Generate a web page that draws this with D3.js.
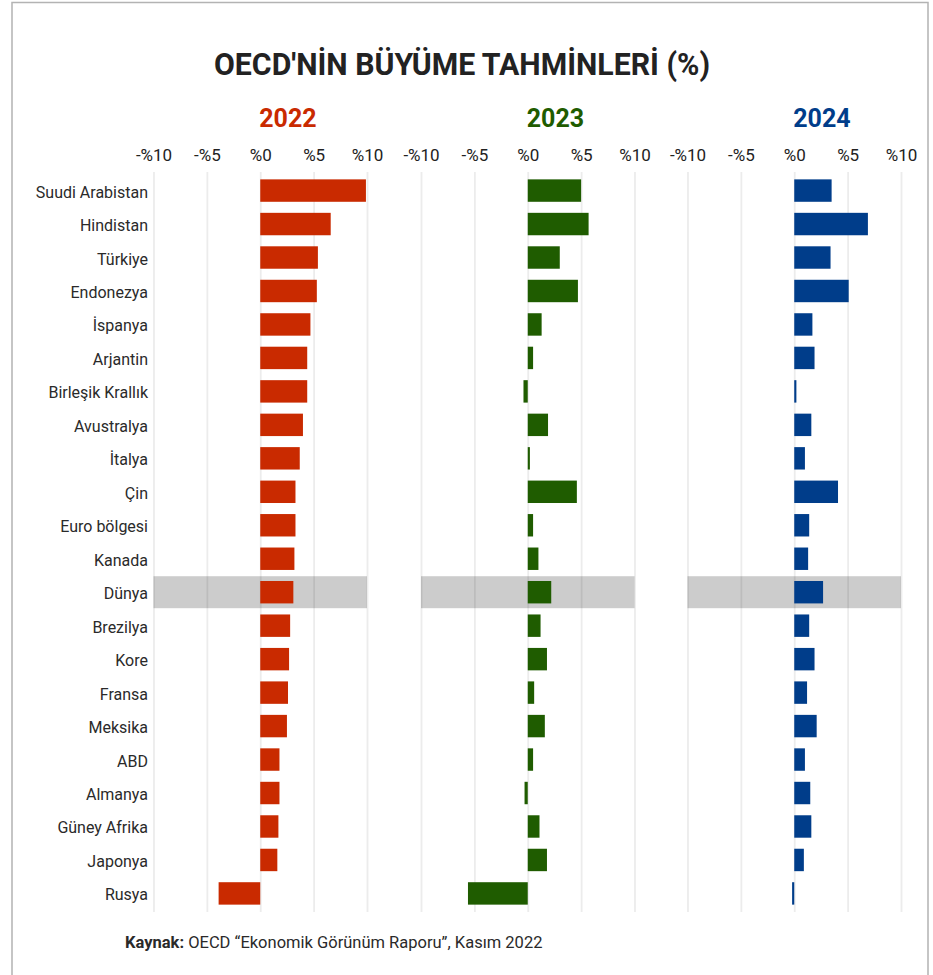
<!DOCTYPE html>
<html>
<head>
<meta charset="utf-8">
<script src="https://cdn.jsdelivr.net/npm/d3@7"></script>
<style>
  body { margin: 0; background: #fff; }
  text { font-family: Roboto, "Noto Sans", sans-serif; }
</style>
</head>
<body>
<div id="chart"></div>
<script>
"use strict";

var countries = ["Suudi Arabistan", "Hindistan", "Türkiye", "Endonezya", "İspanya", "Arjantin",
    "Birleşik Krallık", "Avustralya", "İtalya", "Çin", "Euro bölgesi", "Kanada", "Dünya",
    "Brezilya", "Kore", "Fransa", "Meksika", "ABD", "Almanya", "Güney Afrika", "Japonya", "Rusya"];

var years = ["2022", "2023", "2024"];

var growth2022 = [9.9, 6.6, 5.4, 5.3, 4.7, 4.4, 4.4, 4.0, 3.7, 3.3, 3.3, 3.2, 3.1,
    2.8, 2.7, 2.6, 2.5, 1.8, 1.8, 1.7, 1.6, -3.9];
var growth2023 = [5.0, 5.7, 3.0, 4.7, 1.3, 0.5, -0.4, 1.9, 0.2, 4.6, 0.5, 1.0, 2.2,
    1.2, 1.8, 0.6, 1.6, 0.5, -0.3, 1.1, 1.8, -5.6];
var growth2024 = [3.5, 6.9, 3.4, 5.1, 1.7, 1.9, 0.2, 1.6, 1.0, 4.1, 1.4, 1.3, 2.7,
    1.4, 1.9, 1.2, 2.1, 1.0, 1.5, 1.6, 0.9, -0.2];

var tickValues = [-10, -5, 0, 5, 10];
var highlight = "Dünya";

var colors = ["#c92a00", "#1f5c00", "#003d8a"];
var series = [growth2022, growth2023, growth2024];

var width = 933, height = 975;

var svg = d3.select("#chart")
    .append("svg")
    .attr("width", width)
    .attr("height", height);

// frame
svg.append("path")
    .attr("d", "M12,975 V2.5 H928 V975")
    .attr("fill", "none")
    .attr("stroke", "#b3b3b3")
    .attr("stroke-width", 1.5);

// title
svg.append("text")
    .attr("x", 462)
    .attr("y", 75)
    .attr("text-anchor", "middle")
    .attr("textLength", 496)
    .attr("lengthAdjust", "spacingAndGlyphs")
    .style("font-size", "32px")
    .style("font-weight", "700")
    .attr("fill", "#222")
    .text("OECD'NİN BÜYÜME TAHMİNLERİ (%)");

// rows
var y = d3.scaleBand()
    .domain(countries)
    .range([172, 912])
    .paddingInner(0.33)
    .paddingOuter(0.22);

svg.append("g")
    .selectAll("text")
    .data(countries)
    .enter()
    .append("text")
    .attr("x", 148)
    .attr("y", d => y(d) + y.bandwidth() / 2)
    .attr("dy", 7)
    .attr("text-anchor", "end")
    .style("font-size", "16px")
    .attr("fill", "#2a2a2a")
    .text(d => d);

var panelLeft = [153.5, 421, 687.5];
var panelWidth = 213.5;

years.forEach(function (year, i) {
    var x = d3.scaleLinear()
        .domain([-10, 10])
        .range([panelLeft[i], panelLeft[i] + panelWidth]);

    var g = svg.append("g");

    // gridlines
    g.append("g")
        .attr("transform", "translate(0,172)")
        .call(d3.axisBottom(x).tickValues(tickValues).tickSize(740).tickFormat(""))
        .call(a => a.select(".domain").remove())
        .call(a => a.selectAll("line").attr("stroke", "#ececec").attr("stroke-width", 1.8));

    // tick labels
    g.append("g")
        .attr("transform", "translate(0,161)")
        .call(d3.axisTop(x).tickValues(tickValues).tickSize(0).tickPadding(0)
            .tickFormat(d => (d < 0 ? "-" : "") + "%" + Math.abs(d)))
        .call(a => a.select(".domain").remove())
        .call(a => a.selectAll("text")
            .style("font-size", "17px")
            .style("font-family", "Roboto, sans-serif")
            .attr("fill", "#222"));

    // highlight row
    g.append("rect")
        .attr("x", x(-10))
        .attr("y", y(highlight) + y.bandwidth() / 2 - 16)
        .attr("width", x(10) - x(-10))
        .attr("height", 32)
        .attr("fill", "#000")
        .attr("fill-opacity", 0.2);

    // year label
    g.append("text")
        .attr("x", x(0) - 1)
        .attr("y", 127)
        .style("font-size", "25px")
        .style("font-weight", "700")
        .attr("fill", colors[i])
        .text(year);

    // bars
    g.selectAll(".bar")
        .data(countries.map((c, k) => ({ country: c, value: series[i][k] })))
        .enter()
        .append("rect")
        .attr("class", "bar")
        .attr("x", d => x(Math.min(0, d.value)))
        .attr("y", d => y(d.country))
        .attr("width", d => Math.abs(x(d.value) - x(0)))
        .attr("height", y.bandwidth())
        .attr("fill", colors[i]);
});

// source
var src = svg.append("text")
    .attr("x", 125)
    .attr("y", 948)
    .style("font-size", "16.5px")
    .attr("fill", "#2a2a2a");
src.append("tspan").style("font-weight", "700").text("Kaynak:");
src.append("tspan").text(" OECD “Ekonomik Görünüm Raporu”, Kasım 2022");
</script>
</body>
</html>
